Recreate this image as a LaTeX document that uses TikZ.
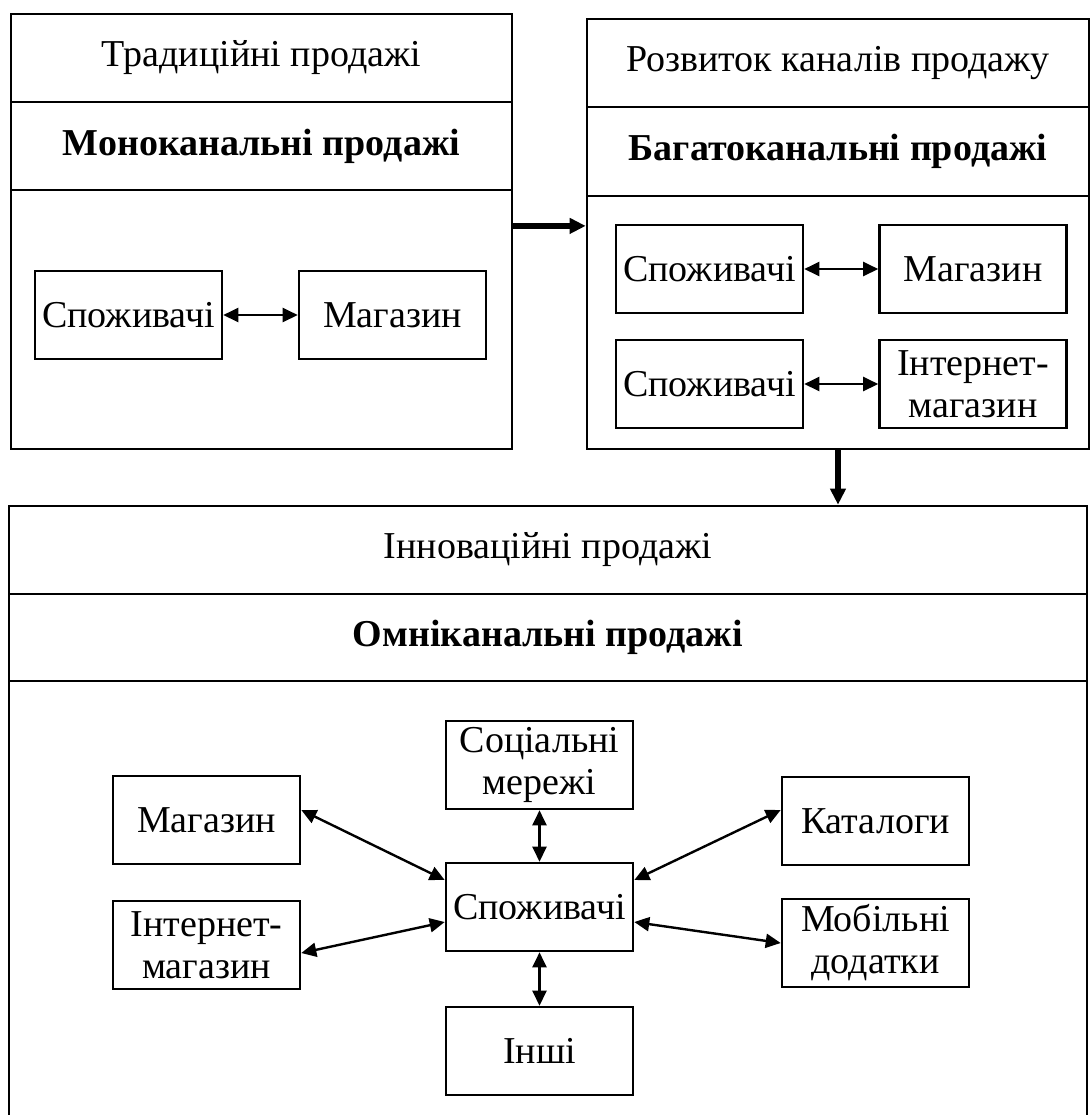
\documentclass[tikz,border=0pt]{standalone}
\usepackage{fontspec}
\setmainfont{Liberation Serif}
\usetikzlibrary{arrows.meta}

\begin{document}
\begin{tikzpicture}[x=0.5pt,y=-0.5pt,
		blok/.style={draw, line width=1.3pt, inner sep=0pt, align=center,
			font=\fontsize{19}{21}\selectfont},
		ryad/.style={blok, minimum height=44pt},
		kanal/.style={blok, minimum width=93.5pt, minimum height=44pt},
		zv/.style={{Triangle[length=7.5pt,width=7pt]}-{Triangle[length=7.5pt,width=7pt]}, line width=1.2pt},
		perehid/.style={-{Triangle[length=8pt,width=7.5pt]}, line width=2.8pt}]
		
		\clip (0,0) rectangle (1090,1115);
		
		% Традиційні продажі (зліва вгорі)
		\node[blok, minimum width=250.5pt, minimum height=217.5pt] (mono) at (261.5,231.5) {};
		\node[ryad, minimum width=250.5pt] (mono1) at (261.5,58) {Традиційні продажі};
		\node[ryad, minimum width=250.5pt] (mono2) at (261.5,146) {\bfseries Моноканальні продажі};
		\node[kanal] (c1) at (128.5,315) {Споживачі};
		\node[kanal] (m1) at (392.5,315) {Магазин};
		\draw[zv] (c1) -- (m1);
		
		% Розвиток каналів продажу (справа вгорі)
		\node[blok, minimum width=251pt, minimum height=215pt] (bagato) at (838,234) {};
		\node[ryad, minimum width=251pt] (bagato1) at (838,63) {Розвиток каналів продажу};
		\node[ryad, minimum width=251pt, minimum height=44.5pt] (bagato2) at (838,151.5) {\bfseries Багатоканальні продажі};
		\node[kanal] (c2) at (709.5,269) {Споживачі};
		\node[kanal] (m2) at (973,269) {Магазин};
		\node[kanal] (c3) at (709.5,384) {Споживачі};
		\node[kanal] (e3) at (973,384) {Інтернет-\\магазин};
		\draw[zv] (c2) -- (m2);
		\draw[zv] (c3) -- (e3);
		
		% Інноваційні продажі (внизу, нижня межа за краєм)
		\node[blok, minimum width=539pt, minimum height=312pt] (omni) at (548,818) {};
		\node[ryad, minimum width=539pt] (omni1) at (548,550) {Інноваційні продажі};
		\node[ryad, minimum width=539pt, minimum height=43.5pt] (omni2) at (548,637.5) {\bfseries Омніканальні продажі};
		
		\node[kanal] (soc) at (539.5,765) {Соціальні\\мережі};
		\node[kanal] (cons) at (539.5,907) {Споживачі};
		\node[kanal] (oth) at (539.5,1051) {Інші};
		\node[kanal] (shop) at (206.5,820) {Магазин};
		\node[kanal] (eshop) at (206.5,945) {Інтернет-\\магазин};
		\node[kanal] (cat) at (875.5,821) {Каталоги};
		\node[kanal] (mob) at (875.5,943) {Мобільні\\додатки};
		
		% Зв'язки зі споживачами
		\draw[zv] (soc) -- (cons);
		\draw[zv] (cons) -- (oth);
		\draw[zv] ([yshift=5pt]shop.east) -- ([yshift=13.5pt]cons.west);
		\draw[zv] ([yshift=-4pt]eshop.east) -- ([yshift=-7.5pt]cons.west);
		\draw[zv] ([yshift=5.5pt]cat.west) -- ([yshift=13.5pt]cons.east);
		\draw[zv] (mob.west) -- ([yshift=-7.5pt]cons.east);
		
		% Переходи між етапами
		\draw[perehid] ([yshift=2.8pt]mono.east) -- ([yshift=2.8pt]mono.east -| bagato.west);
		\draw[perehid] (bagato.south) -- (bagato.south |- omni.north);
		
	\end{tikzpicture}
\end{document}
